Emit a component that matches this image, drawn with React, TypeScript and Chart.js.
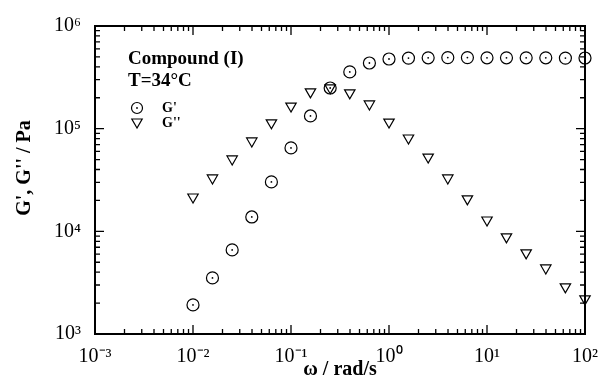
import React, { useEffect, useRef } from "react";
import { Chart, registerables } from "chart.js";
Chart.register(...registerables);

// angular frequency ω (rad/s)
const omega = [0.01, 0.0158, 0.0251, 0.0398, 0.0631, 0.1, 0.158, 0.251, 0.398, 0.631, 1, 1.58, 2.51, 3.98, 6.31, 10, 15.8, 25.1, 39.8, 63.1, 100];
// storage modulus G' (Pa)
const gPrime = [1920, 3520, 6590, 13800, 30300, 64900, 133000, 249000, 357000, 436000, 477000, 487000, 490000, 492000, 492000, 490000, 490000, 490000, 490000, 487000, 488000];
// loss modulus G'' (Pa)
const gDoublePrime = [21600, 33100, 50700, 75900, 114000, 166000, 228000, 250000, 223000, 174000, 116000, 81100, 52900, 33100, 20700, 12900, 8830, 6170, 4400, 2880, 2200];

const xTickValues = [1e-3, 1e-2, 1e-1, 1, 10, 100];
const xTickLabels = ["10⁻³", "10⁻²", "10⁻¹", "10⁰", "10¹", "10²"];
const yTickValues = [1e3, 1e4, 1e5, 1e6];
const yTickLabels = ["10³", "10⁴", "10⁵", "10⁶"];

const annotationLines = ["Compound (I)", "T=34°C"];
const seriesNames = ["G'", "G''"];
const xTitle = "ω / rad/s";
const yTitle = "G', G'' / Pa";

const SERIF = "'Liberation Serif', 'Times New Roman', serif";

const framePlugin = {
  id: "frameTicks",
  afterDatasetsDraw(chart: any) {
    const { ctx, chartArea: a, scales } = chart;
    const xs = scales.x;
    const ys = scales.y;
    ctx.save();
    ctx.strokeStyle = "#000";
    ctx.lineWidth = 2;
    ctx.strokeRect(a.left, a.top, a.right - a.left, a.bottom - a.top);
    ctx.lineWidth = 1.3;
    ctx.beginPath();
    for (let d = -3; d <= 2; d++) {
      for (let m = 1; m <= 9; m++) {
        const v = m * Math.pow(10, d);
        if (v > 100.0001) break;
        const px = xs.getPixelForValue(v);
        const len = m === 1 ? 9 : 5;
        ctx.moveTo(px, a.bottom);
        ctx.lineTo(px, a.bottom - len);
        ctx.moveTo(px, a.top);
        ctx.lineTo(px, a.top + len);
      }
    }
    for (let d = 3; d <= 6; d++) {
      for (let m = 1; m <= 9; m++) {
        const v = m * Math.pow(10, d);
        if (v > 1e6 + 1) break;
        const py = ys.getPixelForValue(v);
        const len = m === 1 ? 9 : 5;
        ctx.moveTo(a.left, py);
        ctx.lineTo(a.left + len, py);
        ctx.moveTo(a.right, py);
        ctx.lineTo(a.right - len, py);
      }
    }
    ctx.stroke();

    // centre dots of the circle markers
    const meta = chart.getDatasetMeta(0);
    ctx.fillStyle = "#000";
    meta.data.forEach((pt: any) => {
      ctx.beginPath();
      ctx.arc(pt.x, pt.y, 0.9, 0, Math.PI * 2);
      ctx.fill();
    });

    // annotation + legend
    ctx.fillStyle = "#000";
    ctx.textBaseline = "alphabetic";
    ctx.textAlign = "left";
    ctx.font = `bold 19px ${SERIF}`;
    ctx.fillText(annotationLines[0], 128, 64);
    ctx.fillText(annotationLines[1], 128, 86);

    ctx.lineWidth = 1.2;
    ctx.beginPath();
    ctx.arc(137, 108, 5.5, 0, Math.PI * 2);
    ctx.stroke();
    ctx.beginPath();
    ctx.arc(137, 108, 0.9, 0, Math.PI * 2);
    ctx.fill();
    const r = 6;
    const cy = 122;
    ctx.beginPath();
    ctx.moveTo(137, cy + r);
    ctx.lineTo(137 - r * 0.866, cy - r * 0.5);
    ctx.lineTo(137 + r * 0.866, cy - r * 0.5);
    ctx.closePath();
    ctx.stroke();

    ctx.font = `bold 14px ${SERIF}`;
    ctx.textBaseline = "middle";
    ctx.fillText(seriesNames[0], 162, 108);
    ctx.fillText(seriesNames[1], 162, 123);

    // y axis title
    ctx.save();
    ctx.translate(25, 168);
    ctx.rotate(-Math.PI / 2);
    ctx.textAlign = "center";
    ctx.textBaseline = "middle";
    ctx.font = `bold 20px ${SERIF}`;
    ctx.fillText(yTitle, 0, 0);
    ctx.restore();

    ctx.restore();
  },
};

export default function App() {
  const ref = useRef<HTMLCanvasElement | null>(null);
  useEffect(() => {
    document.body.style.margin = "0";
    document.body.style.background = "#fff";
    if (!ref.current) return;
    const chart = new Chart(ref.current, {
      type: "scatter",
      data: {
        datasets: [
          {
            label: seriesNames[0],
            data: omega.map((x, i) => ({ x, y: gPrime[i] })),
            pointStyle: "circle",
            pointRadius: 6,
            borderWidth: 1.2,
            borderColor: "#000",
            backgroundColor: "rgba(0,0,0,0)",
            clip: false,
          },
          {
            label: seriesNames[1],
            data: omega.map((x, i) => ({ x, y: gDoublePrime[i] })),
            pointStyle: "triangle",
            rotation: 180,
            pointRadius: 6,
            borderWidth: 1.2,
            borderColor: "#000",
            backgroundColor: "rgba(0,0,0,0)",
            clip: false,
          } as any,
        ],
      },
      options: {
        responsive: false,
        animation: false,
        events: [],
        layout: { padding: { top: 26, right: 22, left: 0, bottom: 0 } },
        plugins: {
          legend: { display: false },
          tooltip: { enabled: false },
        },
        scales: {
          x: {
            type: "logarithmic",
            min: 1e-3,
            max: 100,
            position: "bottom",
            grid: { display: false, drawTicks: false },
            border: { display: false },
            afterBuildTicks: (s: any) => {
              s.ticks = xTickValues.map((value) => ({ value }));
            },
            afterFit: (s: any) => {
              s.height = 55;
            },
            ticks: {
              autoSkip: false,
              maxRotation: 0,
              padding: 11,
              color: "#000",
              font: { family: SERIF, size: 20 },
              callback: (v: any) => {
                const i = xTickValues.findIndex((t) => Math.abs(Math.log10(t) - Math.log10(v)) < 1e-6);
                return i >= 0 ? xTickLabels[i] : "";
              },
            },
            title: {
              display: true,
              text: xTitle,
              color: "#000",
              font: { family: SERIF, size: 20, weight: "bold" },
              padding: { top: 0, bottom: 7 },
            },
          },
          y: {
            type: "logarithmic",
            min: 1e3,
            max: 1e6,
            grid: { display: false, drawTicks: false },
            border: { display: false },
            afterBuildTicks: (s: any) => {
              s.ticks = yTickValues.map((value) => ({ value }));
            },
            afterFit: (s: any) => {
              s.width = 95;
            },
            ticks: {
              autoSkip: false,
              padding: 14,
              color: "#000",
              font: { family: SERIF, size: 20 },
              callback: (v: any) => {
                const i = yTickValues.findIndex((t) => Math.abs(Math.log10(t) - Math.log10(v)) < 1e-6);
                return i >= 0 ? yTickLabels[i] : "";
              },
            },
            title: { display: false },
          },
        },
      },
      plugins: [framePlugin],
    } as any);
    return () => chart.destroy();
  }, []);
  return (
    <div style={{ width: 609, height: 389, background: "#fff" }}>
      <canvas ref={ref} width={609} height={389} style={{ display: "block" }} />
    </div>
  );
}
